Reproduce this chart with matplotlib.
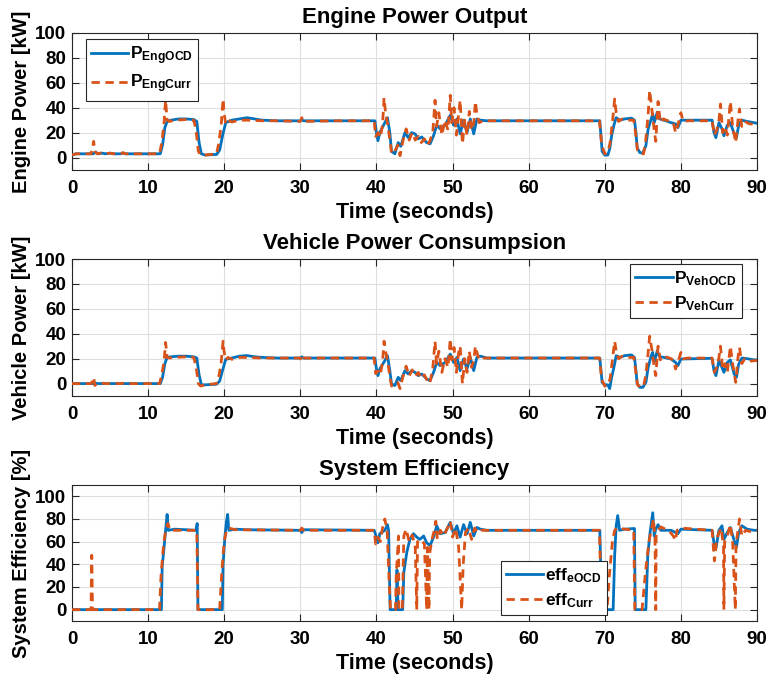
import matplotlib as mpl

mpl.use("Agg")

import matplotlib.pyplot as plt

plt.rcParams.update({
    "font.family": "Liberation Sans",
    "font.weight": "bold",
    "mathtext.fontset": "custom",
    "mathtext.rm": "Liberation Sans:bold",
    "mathtext.bf": "Liberation Sans:bold",
    "mathtext.it": "Liberation Sans:bold",
    "mathtext.default": "bf",
})

blue = "#0072BD"
orange = "#D95319"

# time points (s) for the OCD traces
t_ocd = [0, 0.5, 2.8, 3.1, 3.4, 4.0, 4.4, 5.0, 5.5, 6.4, 6.7, 7.0, 11.6, 11.9, 12.2, 12.5,
         13.0, 14.0, 15.0, 16.0, 16.4, 16.7, 17.0, 17.5, 19.0, 19.4, 19.8, 20.2, 20.6, 21.0,
         22.0, 23.0, 24.0, 25.0, 27.0, 30.0, 30.2, 30.4, 35.0, 39.8, 40.0, 40.2, 40.44, 41.1,
         41.45, 41.76, 41.98, 42.42, 42.86, 43.2, 43.74, 44.18, 44.63, 45.07, 45.5, 45.95,
         46.6, 47.05, 47.5, 47.93, 48.37, 49.03, 49.7, 50.13, 50.57, 51.0, 51.45, 51.9, 52.33,
         52.78, 53.2, 53.66, 54.5, 60.0, 69.35, 69.65, 70.0, 70.4, 70.65, 70.9, 71.2, 71.5,
         72.0, 72.6, 73.5, 73.9, 74.1, 74.25, 74.6, 75.0, 75.4, 75.7, 76.1, 76.3, 76.5, 76.9,
         77.2, 77.8, 78.7, 79.3, 79.6, 80.0, 84.1, 84.35, 84.6, 85.0, 85.4, 85.65, 86.1, 86.5,
         87.0, 87.3, 87.6, 88.0, 88.7, 89.6, 90.0]
eng_ocd = [2, 3, 3, 4.5, 3, 3.5, 3, 3.5, 3, 3, 3.5, 3, 3, 10, 24, 29,
           30, 31, 31, 30.5, 29, 12, 3, 2, 2.5, 6, 18, 28, 29, 30,
           31, 32, 31, 30, 29.5, 29.5, 30.5, 29.5, 29.5, 29.5, 20, 13.5, 20, 28,
           32, 20, 5, 3, 12, 9, 20, 16, 20, 19, 15, 16.5,
           12, 11, 17.5, 26, 23, 26, 34, 26, 31, 19, 30, 20, 31,
           19, 31, 30, 29.5, 29.5, 29.5, 5, 2, 2, 7, 17.5, 26, 32,
           30, 31, 31.6, 30, 20, 8, 4, 3.5, 9.5, 23, 31, 35, 28, 36.5,
           31, 30, 28, 27, 24, 30, 30, 20, 16, 28, 23, 17.5, 26, 28,
           19, 16, 26, 30, 29, 28, 27.5]
veh_ocd = [0, 0, 0, 0.3, 0, 0, 0, 0, 0, 0, 0, 0, 0, 5, 16, 21,
           21.5, 22, 22, 21.5, 20.5, 7, -1, -1, -0.5, 2, 11, 19.5, 20, 20.5,
           22, 22.5, 21.5, 21, 20.5, 20.5, 21.5, 20.5, 20.5, 20.5, 12, 6.4, 11.7, 18.4,
           22.4, 10.4, -0.3, -1.6, 5, 2.4, 10.4, 7.7, 10.4, 9, 6.4, 7.7,
           3.7, 2.4, 9, 17, 14.4, 17, 23.7, 17, 21, 10.4, 19.7, 11.7, 21,
           10.4, 21, 22, 20.5, 20.5, 20.5, 1, -1, -1, -4, 5, 13, 22.4,
           21, 22.4, 23, 21, 10.4, 0, -3, -3, 1, 13, 22.4, 25, 17, 26.4,
           21.6, 21, 19.7, 17, 14.4, 19.7, 20.3, 10.4, 6.4, 18.4, 13, 9, 17, 19,
           7.7, 5, 15.7, 20.5, 20, 19, 19]

# time points (s) for the current-strategy traces
t_curr = [0, 0.5, 2.5, 2.7, 2.85, 3.0, 3.3, 4.0, 4.4, 5.0, 5.5, 6.4, 6.7, 7.0, 11.5, 11.8,
          12.1, 12.3, 12.5, 12.8, 13.5, 15.0, 16.0, 16.3, 16.6, 16.9, 17.5, 19.0, 19.3, 19.6,
          19.85, 20.0, 20.2, 20.5, 21.0, 22.0, 23.0, 25.0, 27.0, 30.0, 30.2, 30.4, 35.0, 39.7,
          39.9, 40.2, 40.5, 40.8, 41.0, 41.2, 41.5, 41.8, 42.0, 42.4, 42.8, 43.1, 43.5, 43.9,
          44.3, 44.7, 45.1, 45.5, 45.9, 46.3, 46.7, 47.0, 47.4, 47.7, 47.9, 48.2, 48.6, 49.0,
          49.4, 49.7, 49.9, 50.2, 50.5, 50.8, 51.0, 51.3, 51.6, 51.9, 52.2, 52.5, 52.8, 53.0,
          53.2, 53.5, 54.0, 60.0, 69.3, 69.6, 70.0, 70.4, 70.7, 71.0, 71.3, 71.5, 71.8, 72.3,
          73.0, 73.8, 74.0, 74.3, 74.7, 75.1, 75.4, 75.7, 75.9, 76.2, 76.5, 76.7, 77.0, 77.3,
          77.7, 78.5, 79.0, 79.3, 79.6, 80.0, 80.3, 81.0, 84.1, 84.4, 84.7, 85.0, 85.2, 85.5,
          85.8, 86.1, 86.5, 86.8, 87.2, 87.5, 87.7, 88.0, 88.4, 89.0, 90.0]
eng_curr = [2, 3, 3, 8, 13, 5, 3, 4, 3, 3.5, 3, 3, 4, 3, 3, 12,
            28, 46, 30, 29, 30, 30.5, 30, 22, 5, 2, 2, 3, 12, 26,
            47, 35, 27, 30, 28.5, 30, 30, 29.5, 29.5, 29, 32, 29, 29.5, 29.5,
            17, 20, 16, 26, 48, 36, 26, 12, 3, 5, 10, 1.5, 14, 23,
            14, 20, 14, 17, 12, 15, 10, 13, 20, 46, 25, 36, 18, 30,
            22, 50, 28, 40, 18, 35, 46, 11, 30, 18, 37, 22, 28, 45,
            35, 28, 29.5, 29.5, 29.5, 10, 3, 4, 12, 28, 47, 36, 29, 31,
            30, 30, 22, 6, 3, 3, 15, 35, 54, 38, 22, 13, 45, 28,
            31, 29, 28, 20, 26, 36, 29, 29.5, 29.5, 18, 22, 30, 43, 20,
            25, 18, 45, 25, 12, 30, 39, 25, 29, 27, 27]
veh_curr = [0, 0, 0, 2, 5, -1.5, 0, 0.3, 0, 0, 0, 0, 0.3, 0, 0, 7,
            18, 33, 21, 20.5, 21, 21.5, 21, 14, 0, -2, -1, 0, 6, 17,
            34, 25, 19, 21, 19.5, 21, 21, 20.5, 20.5, 20.5, 17.5, 20.5, 20.5, 20.5,
            8, 10, 7, 17, 34, 26, 17, 4, -2, -1, 1, -4, 6, 14,
            6, 11, 6, 9, 4, 7, 2, 0, 12, 34, 16, 26, 9, 20,
            13, 36, 19, 29, 9, 25, 30, 0, 20, 9, 26, 13, 19, 30,
            25, 19, 20.5, 20.5, 20.5, 3, -2, -1.5, 4, 19, 34, 26, 20, 22,
            21, 21, 13, -1, -3, -2, 7, 25, 38, 27, 13, 6.4, 30, 19,
            22, 20.5, 19, 11.7, 17, 25, 20, 20.5, 20.5, 9, 13, 21, 30, 11,
            16, 9, 30, 16, 1, 21, 29, 16, 20, 18, 18.5]

# system efficiency (%)
t_eff_ocd = [0, 11.75, 11.85, 12.1, 12.3, 12.5, 12.65, 13.5, 15.0, 16.3, 16.45, 16.55, 19.75,
             19.85, 20.1, 20.3, 20.45, 20.6, 21.5, 23.0, 30.0, 30.2, 30.4, 39.7, 40.0, 40.2,
             40.44, 41.1, 41.45, 41.6, 41.8, 42.6, 42.7, 42.85, 43.45, 43.6, 44.0, 44.4, 44.85,
             45.3, 45.7, 46.2, 46.6, 47.05, 47.5, 47.93, 48.37, 49.03, 49.7, 50.13, 50.57,
             51.0, 51.45, 51.9, 52.33, 52.78, 53.2, 53.66, 54.5, 69.35, 69.6, 71.1, 71.3,
             71.5, 71.7, 71.95, 72.6, 73.9, 74.0, 75.4, 75.65, 75.95, 76.3, 76.5, 76.7, 77.0,
             77.35, 78.7, 79.3, 79.6, 80.0, 84.1, 84.35, 84.6, 85.0, 85.4, 85.65, 86.1, 86.5,
             87.0, 87.3, 87.6, 88.0, 88.7, 89.6, 90.0]
eff_ocd = [0, 0, 38, 55, 70, 84, 70, 71, 70.5, 70, 76, 0, 0,
           40, 65, 78, 84, 70, 71, 70.5, 70, 68, 70.5, 70, 64, 59,
           67, 70, 75, 70, 0, 0, 35, 0, 0, 33, 51, 62, 67,
           64, 62, 65, 59, 56.5, 64, 74, 67, 68, 77, 67, 74,
           64, 75, 67, 77, 65, 72.5, 71, 70, 70, 0, 0, 48,
           74, 83, 70, 71, 71.6, 0, 0, 48, 68, 85.5, 65, 71, 75,
           70, 70, 68, 67, 71, 70, 59, 54, 70, 74, 62, 68, 72.5,
           61, 55, 68, 74, 71, 70, 70]
t_eff_curr = [0, 2.5, 2.6, 2.7, 11.5, 11.7, 12.0, 12.3, 12.6, 12.9, 16.4, 16.55, 19.4, 19.7,
              20.0, 20.3, 20.6, 21.5, 30.0, 30.2, 30.4, 39.7, 39.9, 40.2, 40.5, 40.8, 41.1,
              41.4, 41.7, 41.85, 42.5, 42.6, 42.9, 42.95, 43.4, 43.6, 43.9, 44.3, 44.7, 45.1,
              45.3, 45.4, 45.8, 46.3, 46.6, 46.7, 46.9, 47.0, 47.3, 47.6, 47.8, 48.0, 48.4,
              48.8, 49.2, 49.7, 50.0, 50.4, 50.8, 51.2, 51.4, 51.7, 52.1, 52.5, 52.9, 53.3,
              53.8, 69.3, 69.55, 70.3, 70.6, 71.0, 71.3, 71.6, 73.8, 73.95, 74.9, 75.3, 75.8,
              76.1, 76.4, 76.6, 76.7, 76.75, 77.0, 77.4, 78.5, 79.0, 79.3, 79.5, 80.0, 84.1,
              84.4, 84.7, 85.0, 85.3, 85.6, 85.65, 85.75, 86.1, 86.5, 86.8, 87.15, 87.25, 87.5,
              87.7, 88.0, 88.5, 89.0, 90.0]
eff_curr = [0, 0, 48, 0, 0, 30, 55, 70, 76, 70, 70, 0, 0, 35,
            60, 70, 72, 70.5, 70, 72, 70, 70, 58, 64, 60, 72, 80,
            70, 20, 0, 0, 30, 65, 0, 0, 65, 71, 60, 66, 55,
            0, 60, 62, 58, 0, 55, 0, 50, 62, 70, 78, 62, 70,
            65, 70, 78, 64, 72, 55, 0, 40, 68, 72, 62, 72, 68,
            70, 70, 0, 0, 30, 60, 70, 72, 70, 0, 0, 30, 60,
            70, 80, 62, 0, 65, 70, 73, 69, 65, 61, 70, 72, 70,
            43, 62, 68, 72, 55, 0, 60, 65, 75, 60, 0, 58, 70,
            80, 65, 70, 69, 70]

panels = [
    ("Engine Power Output", "Engine Power [kW]", t_ocd, eng_ocd, t_curr, eng_curr,
     [r"$\mathbf{P_{EngOCD}}$", r"$\mathbf{P_{EngCurr}}$"], (-10, 100), range(0, 101, 20),
     [0.0936, 0.75, 0.8908, 0.2015], "upper left", (0.02, 0.956)),
    ("Vehicle Power Consumpsion", "Vehicle Power [kW]", t_ocd, veh_ocd, t_curr, veh_curr,
     [r"$\mathbf{P_{VehOCD}}$", r"$\mathbf{P_{VehCurr}}$"], (-10, 100), range(0, 101, 20),
     [0.0936, 0.4176, 0.8908, 0.2015], "upper right", (0.978, 0.964)),
    ("System Efficiency", "System Efficiency [%]", t_eff_ocd, eff_ocd, t_eff_curr, eff_curr,
     [r"$\mathbf{eff_{eOCD}}$", r"$\mathbf{eff_{Curr}}$"], (-10, 110), range(0, 101, 20),
     [0.0936, 0.0868, 0.8908, 0.2], "lower left", (0.626, 0.044)),
]

fig = plt.figure(figsize=(7.69, 6.8), dpi=100)

for title, ylab, ta, ya, tb, yb, labels, ylim, yticks, rect, lloc, lanchor in panels:
    ax = fig.add_axes(rect)
    ax.plot(ta, ya, color=blue, lw=2.0, label=labels[0], zorder=3)
    ax.plot(tb, yb, color=orange, lw=2.0, ls=(0, (3, 2)), label=labels[1], zorder=4)
    ax.set_xlim(0, 90)
    ax.set_ylim(*ylim)
    ax.set_xticks(range(0, 91, 10))
    ax.set_yticks(list(yticks))
    ax.grid(True, color="#dedede", lw=0.8)
    ax.set_axisbelow(True)
    ax.tick_params(direction="in", top=True, right=True, labelsize=13.5, length=5,
                   color="#262626", width=0.8)
    ax.tick_params(axis="x", pad=7)
    ax.tick_params(axis="y", pad=4)
    for s in ax.spines.values():
        s.set_color("#262626")
        s.set_linewidth(0.8)
    ax.set_title(title, fontsize=16, fontweight="bold", pad=7)
    ax.set_xlabel("Time (seconds)", fontsize=15.5, fontweight="bold", labelpad=4)
    ax.set_ylabel(ylab, fontsize=14.5, fontweight="bold", labelpad=3)
    leg = ax.legend(loc=lloc, bbox_to_anchor=lanchor, borderaxespad=0, fontsize=12.5,
                    fancybox=False, framealpha=1, edgecolor="#262626", handlelength=2.15,
                    handletextpad=0.1, borderpad=0.3, labelspacing=0.35)
    leg.get_frame().set_linewidth(0.8)

plt.savefig("out.png", dpi=100)
plt.close()
